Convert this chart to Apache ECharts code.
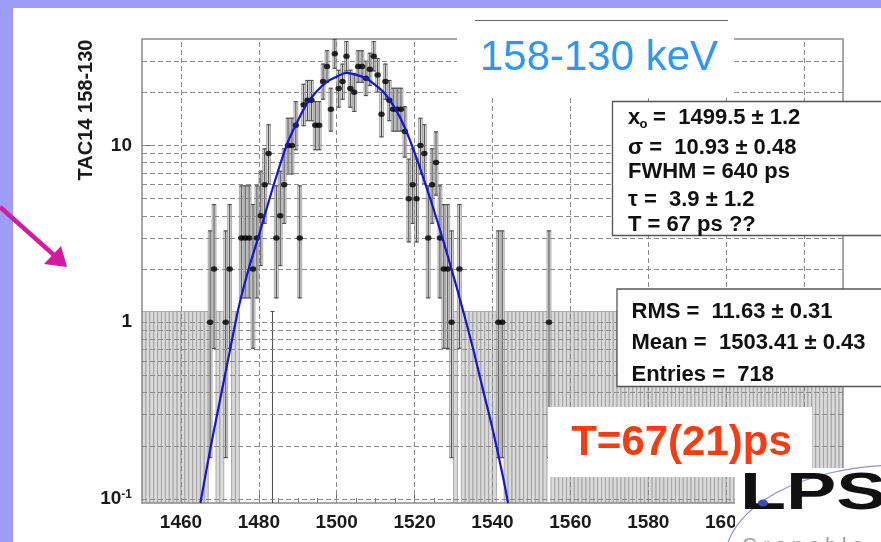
<!DOCTYPE html>
<html><head><meta charset="utf-8">
<script src="https://cdn.jsdelivr.net/npm/echarts@6/dist/echarts.min.js"></script>
<style>html,body{margin:0;padding:0;background:#fff;overflow:hidden}#c{width:881px;height:542px}</style>
</head><body><div id="c"></div>
<script>
// ---------- data ----------
const xMin = 1450, xMax = 1630;
const yMin = 0.095, yMax = 40;
const xTickLabels = [1460, 1480, 1500, 1520, 1540, 1560, 1580, 1600, 1620];
const yGridValues = [0.1, 0.2, 0.3, 0.4, 0.5, 0.6, 0.7, 0.8, 0.9,
                     1, 2, 3, 4, 5, 6, 7, 8, 9, 10, 20, 30];
// histogram bins (lower edge, width 1) with non-zero content
const binLow = [1467,1468,1471,1472,1475,1476,1477,1478,1479,1480,
                1481,1482,1484,1485,1486,1487,1488,1489,1490,1491,
                1492,1493,1494,1495,1496,1497,1498,1499,1500,1501,
                1502,1503,1504,1505,1506,1507,1508,1509,1510,1511,
                1512,1513,1514,1515,1516,1517,1518,1519,1520,1521,
                1522,1523,1524,1525,1526,1527,1528,1529,1531,1541,
                1542,1554];
const counts = [1,2,1,2,3,3,3,2,3,4,
                6,9,3,4,6,10,10,13,3,17,
                18,18,13,13,23,28,16,33,21,23,
                32,21,20,28,28,24,27,32,25,15,
                23,18,16,16,16,12,5,6,5,10,
                9,3,6,8,3,2,2,1,2,1,
                1,1];
const emptyLineBins = [1483];     // empty bin drawn as a bare error line
const zeroBoxTop = 1.15;          // upper edge of the grey boxes of empty bins
// fit curve
const fitX = [1465,1467.5,1470,1472.5,1475,1477.5,1480,1482.5,1485,1487.5,1490,1492.5,1495,1497.5,1500,
              1502.5,1505,1507.5,1510,1512.5,1515,1517.5,1520,1522.5,1525,1527.5,1530,1532.5,1535,1537.5,1540,1542.5,1544];
const fitY = [0.095,0.19,0.36,0.68,1.26,2.04,3.09,4.79,7.24,10.5,13.8,17.4,20.4,22.9,24.5,
              25.7,25.1,24.0,21.9,19.5,16.2,12.6,9.1,6.3,4.27,2.82,1.82,1.15,0.71,0.42,0.25,0.14,0.095];
const fitStats = ['σ =  10.93 ± 0.48', 'FWHM = 640 ps', 'τ =  3.9 ± 1.2', 'T = 67 ps ??'];
const fitX0 = ' =  1499.5 ± 1.2';
const histStats = ['RMS =  11.63 ± 0.31', 'Mean =  1503.41 ± 0.43', 'Entries =  718'];
const yTitle = 'TAC14 158-130';
const boxTitle = '158-130 keV';
const resultText = 'T=67(21)ps';

// ---------- derived ----------
function poisson(n) {
  const lo = n * Math.pow(1 - 1 / (9 * n) - 1 / (3 * Math.sqrt(n)), 3);
  const m = n + 1;
  const hi = m * Math.pow(1 - 1 / (9 * m) + 1 / (3 * Math.sqrt(m)), 3);
  return [lo, hi];
}
const filled = new Set(binLow.concat(emptyLineBins));
const boxData = [];
for (let b = xMin; b < xMax; b++) if (!filled.has(b)) boxData.push([b, yMin * 0.5, zeroBoxTop]);
const errData = [];
binLow.forEach((b, i) => {
  const [lo, hi] = poisson(counts[i]);
  const l = lo > yMin * 0.6 ? lo : yMin * 0.5;
  boxData.push([b, l, hi]);
  errData.push([b + 0.5, l, hi]);
});
emptyLineBins.forEach(b => errData.push([b + 0.5, yMin * 0.5, zeroBoxTop]));
const pts = binLow.map((b, i) => [b + 0.5, counts[i]]);
const fitData = fitX.map((x, i) => [x, fitY[i]]);

const FONT = "'Liberation Sans', Arial, Helvetica, sans-serif";
const chart = echarts.init(document.getElementById('c'), null, {renderer: 'canvas'});

const gridLines = yGridValues.map(v => ({yAxis: v})).concat(xTickLabels.map(v => ({xAxis: v})));

const txt = (x, y, text, extra) => Object.assign({
  type: 'text', x: x, y: y, z: 120,
  style: Object.assign({text: text, fill: '#111', font: 'bold 22px ' + FONT, textVerticalAlign: 'middle'}, extra || {})
});

chart.setOption({
  backgroundColor: '#ffffff',
  animation: false,
  grid: {left: 142, right: 38, top: 39, bottom: 39, show: true, borderColor: '#8a8a8a', borderWidth: 1.5, z: 2},
  xAxis: {
    type: 'value', min: xMin, max: xMax, splitNumber: 9,
    axisLine: {show: false},
    axisTick: {show: true, inside: true, length: 9, lineStyle: {color: '#666'}},
    minorTick: {show: true, splitNumber: 4, length: 5, lineStyle: {color: '#777'}},
    splitLine: {show: false},
    axisLabel: {
      show: true, margin: 10, color: '#1a1a1a', fontSize: 19, fontWeight: 'bold', fontFamily: FONT,
      showMinLabel: false, showMaxLabel: false,
      formatter: v => (xTickLabels.indexOf(Math.round(v)) >= 0 && Math.abs(v - Math.round(v)) < 1e-6) ? String(Math.round(v)) : ''
    }
  },
  yAxis: {
    type: 'log', logBase: 10, min: yMin, max: yMax,
    axisLine: {show: false},
    axisTick: {show: true, inside: true, length: 10, lineStyle: {color: '#666'}},
    splitLine: {show: false},
    axisLabel: {
      show: true, margin: 10, color: '#1a1a1a', fontSize: 19, fontWeight: 'bold', fontFamily: FONT, lineHeight: 20,
      showMinLabel: false, showMaxLabel: false,
      formatter: v => {
        const l = Math.log10(v), e = Math.round(l);
        if (Math.abs(l - e) > 1e-6) return '';
        if (e === -1) return '10{sup|-1}';
        return String(Math.round(Math.pow(10, e)));
      },
      rich: {sup: {fontSize: 12, fontWeight: 'bold', fontFamily: FONT, color: '#1a1a1a', lineHeight: 12, verticalAlign: 'top'}}
    }
  },
  series: [
    {
      type: 'custom', z: 1, clip: true, silent: true,
      data: boxData,
      renderItem: (params, api) => {
        const b = api.value(0), lo = api.value(1), hi = api.value(2);
        const p0 = api.coord([b, hi]), p1 = api.coord([b + 1, lo]);
        return {type: 'rect', shape: {x: p0[0], y: p0[1], width: p1[0] - p0[0], height: p1[1] - p0[1]},
                style: {fill: '#d9d9d9', stroke: '#9a9a9a', lineWidth: 0.8}};
      }
    },
    {
      type: 'scatter', z: 3, silent: true, data: [],
      markLine: {silent: true, symbol: 'none', label: {show: false}, animation: false,
                 lineStyle: {color: '#8a8a8a', width: 1, type: [5, 3]}, data: gridLines}
    },
    {
      type: 'custom', z: 4, clip: true, silent: true,
      data: errData,
      renderItem: (params, api) => {
        const x = api.value(0), lo = api.value(1), hi = api.value(2);
        const t = api.coord([x, hi]), b = api.coord([x, lo]);
        const st = {stroke: '#4a4a4a', lineWidth: 1};
        return {type: 'group', children: [
          {type: 'line', shape: {x1: t[0], y1: t[1], x2: b[0], y2: b[1]}, style: st},
          {type: 'line', shape: {x1: t[0] - 2, y1: t[1], x2: t[0] + 2, y2: t[1]}, style: st},
          {type: 'line', shape: {x1: b[0] - 2, y1: b[1], x2: b[0] + 2, y2: b[1]}, style: st}
        ]};
      }
    },
    {
      type: 'scatter', z: 5, silent: true, data: pts,
      symbol: 'circle', symbolSize: [6.5, 5.5], itemStyle: {color: '#000'}
    },
    {
      type: 'line', z: 6, silent: true, data: fitData, showSymbol: false, smooth: 0.35, clip: true,
      lineStyle: {color: '#1414dc', width: 2.2}
    }
  ],
  graphic: {elements: [
    {type: 'rect', z: 100, shape: {x: 0, y: 0, width: 881, height: 8}, style: {fill: '#9d9cf7'}},
    {type: 'rect', z: 100, shape: {x: 0, y: 0, width: 13, height: 542}, style: {fill: '#9d9cf7'}},
    {type: 'line', z: 101, shape: {x1: 0, y1: 207, x2: 55, y2: 256}, style: {stroke: '#d41b9f', lineWidth: 4.5}},
    {type: 'polygon', z: 101, shape: {points: [[67, 267], [44, 264], [61, 246]]}, style: {fill: '#d41b9f'}},
    {type: 'text', z: 101, x: 86, y: 110, rotation: Math.PI / 2,
     style: {text: yTitle, fill: '#1a1a1a', font: 'bold 20px ' + FONT, textAlign: 'center', textVerticalAlign: 'middle'}},
    // title box
    {type: 'rect', z: 110, shape: {x: 457, y: 20, width: 277, height: 77}, style: {fill: '#fff'}},
    {type: 'line', z: 111, shape: {x1: 475, y1: 20.5, x2: 728, y2: 20.5}, style: {stroke: '#666', lineWidth: 1.2}},
    {type: 'text', z: 111, x: 599, y: 58,
     style: {text: boxTitle, fill: '#2f96f5', font: '42px ' + FONT, textAlign: 'center', textVerticalAlign: 'middle'}},
    // fit stats box
    {type: 'rect', z: 110, shape: {x: 612.5, y: 101.5, width: 290, height: 134}, style: {fill: '#fff', stroke: '#555', lineWidth: 1.3}},
    txt(628, 118, 'x'),
    txt(639.5, 124, 'o', {font: 'bold 13px ' + FONT}),
    txt(647, 118, fitX0),
    txt(628, 148, fitStats[0]),
    txt(628, 171.5, fitStats[1]),
    txt(628, 200, fitStats[2]),
    txt(628, 225, fitStats[3]),
    // histogram stats box
    {type: 'rect', z: 110, shape: {x: 617, y: 289, width: 290, height: 97.5}, style: {fill: '#fff', stroke: '#555', lineWidth: 1.3}},
    txt(631.5, 311.5, histStats[0]),
    txt(631.5, 343.3, histStats[1]),
    txt(631.5, 375, histStats[2]),
    // result box
    {type: 'rect', z: 110, shape: {x: 548, y: 407, width: 264, height: 70}, style: {fill: '#fff'}},
    {type: 'text', z: 111, x: 681.5, y: 443,
     style: {text: resultText, fill: '#fa3a10', font: 'bold 42px ' + FONT, textAlign: 'center', textVerticalAlign: 'middle'}},
    // logo
    {type: 'rect', z: 112, shape: {x: 735, y: 468, width: 146, height: 74}, style: {fill: '#fff'}},
    {type: 'ellipse', z: 113, shape: {cx: 900, cy: 560, rx: 175, ry: 95}, style: {fill: 'none', stroke: '#8d93c7', lineWidth: 1.2}},
    {type: 'text', z: 114, x: 740, y: 521, scaleX: 1.45,
     style: {text: 'LPSC', fill: '#111', font: 'bold 52px ' + FONT, textVerticalAlign: 'bottom'}},
    {type: 'ellipse', z: 115, shape: {cx: 763, cy: 503, rx: 5, ry: 3.5}, style: {fill: '#3b4fb0'}},
    {type: 'text', z: 114, x: 742, y: 556,
     style: {text: 'G r e n o b l e', fill: '#9a9a9a', font: '20px ' + FONT, textVerticalAlign: 'bottom'}}
  ]}
});
</script></body></html>
